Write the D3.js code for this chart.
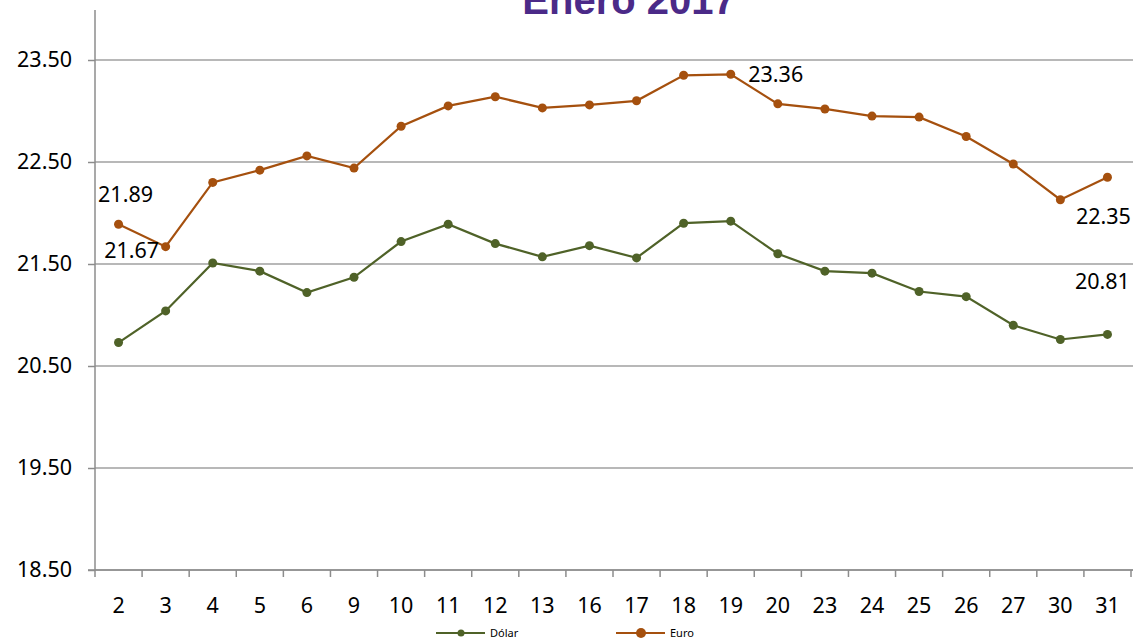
<!DOCTYPE html>
<html>
<head>
<meta charset="utf-8">
<script src="https://cdn.jsdelivr.net/npm/d3@7"></script>
<style>
  body { margin: 0; background: #fff; }
  text { font-family: "Noto Sans", sans-serif; }
</style>
</head>
<body>
<div id="chart"></div>
<script>
var days = ["2","3","4","5","6","9","10","11","12","13","16","17","18","19","20","23","24","25","26","27","30","31"];
var dolar = [20.73,21.04,21.51,21.43,21.22,21.37,21.72,21.89,21.70,21.57,21.68,21.56,21.90,21.92,21.60,21.43,21.41,21.23,21.18,20.90,20.76,20.81];
var euro = [21.89,21.67,22.30,22.42,22.56,22.44,22.85,23.05,23.14,23.03,23.06,23.10,23.35,23.36,23.07,23.02,22.95,22.94,22.75,22.48,22.13,22.35];
var yTicks = [18.5,19.5,20.5,21.5,22.5,23.5];

(function() {
    var width = 1133,
        height = 640;

    var svg = d3.select("#chart")
        .append("svg")
        .attr("width", width)
        .attr("height", height);

    var x = d3.scaleBand().domain(days).range([95, 1131]);
    var y = d3.scaleLinear().domain([18.5, 23.5]).range([570, 60]);

    // gridlines
    svg.selectAll(".grid")
        .data(yTicks)
        .enter().append("line")
        .attr("x1", 95).attr("x2", width)
        .attr("y1", function(d) { return y(d); })
        .attr("y2", function(d) { return y(d); })
        .attr("stroke", "#a0a0a0")
        .attr("stroke-width", 1.5);

    // y axis
    var yAxis = svg.append("g")
        .attr("transform", "translate(95,0)")
        .call(d3.axisLeft(y).tickValues(yTicks).tickFormat(d3.format(".2f")).tickSize(7).tickPadding(16));
    yAxis.select(".domain").remove();
    yAxis.selectAll("line").attr("stroke", "#8c8c8c").attr("stroke-width", 1.5);
    yAxis.selectAll("text").attr("font-size", 21.5).attr("fill", "#000").style("font-family", "Noto Sans");
    svg.append("line")
        .attr("x1", 95).attr("x2", 95).attr("y1", 10).attr("y2", 577)
        .attr("stroke", "#8c8c8c").attr("stroke-width", 1.5);

    // x axis
    var xg = svg.append("g").attr("transform", "translate(0,570)");
    xg.append("line").attr("x1", 88).attr("x2", width).attr("stroke", "#8c8c8c").attr("stroke-width", 1.5);
    xg.selectAll(".xt")
        .data(days)
        .enter().append("line")
        .attr("x1", function(d) { return x(d) + x.bandwidth(); })
        .attr("x2", function(d) { return x(d) + x.bandwidth(); })
        .attr("y1", 0).attr("y2", 7)
        .attr("stroke", "#8c8c8c").attr("stroke-width", 1.5);
    xg.selectAll(".xl")
        .data(days)
        .enter().append("text")
        .attr("x", function(d) { return x(d) + x.bandwidth() / 2; })
        .attr("y", 43)
        .attr("text-anchor", "middle")
        .attr("font-size", 21.5)
        .text(function(d) { return d; });

    var series = [
        { name: "Dólar", values: dolar, color: "#4f6228" },
        { name: "Euro", values: euro, color: "#a5500e" }
    ];

    var line = d3.line()
        .x(function(d, i) { return x(days[i]) + x.bandwidth() / 2; })
        .y(function(d) { return y(d); });

    series.forEach(function(s) {
        svg.append("path")
            .datum(s.values)
            .attr("d", line)
            .attr("fill", "none")
            .attr("stroke", s.color)
            .attr("stroke-width", 2.2);
        svg.selectAll(null)
            .data(s.values)
            .enter().append("circle")
            .attr("cx", function(d, i) { return x(days[i]) + x.bandwidth() / 2; })
            .attr("cy", function(d) { return y(d); })
            .attr("r", 4.5)
            .attr("fill", s.color);
    });

    // data labels
    var labels = [
        { v: euro[0], i: 0, dx: 7, dy: -22 },
        { v: euro[1], i: 1, dx: -34, dy: 11 },
        { v: euro[13], i: 13, dx: 45, dy: 8 },
        { v: euro[21], i: 21, dx: -4, dy: 47 },
        { v: dolar[21], i: 21, dx: -5, dy: -45 }
    ];
    svg.selectAll(".dl")
        .data(labels)
        .enter().append("text")
        .attr("x", function(d) { return x(days[d.i]) + x.bandwidth() / 2 + d.dx; })
        .attr("y", function(d) { return y(d.v) + d.dy; })
        .attr("text-anchor", "middle")
        .attr("font-size", 21.5)
        .text(function(d) { return d.v.toFixed(2); });

    // title
    svg.append("text")
        .attr("x", 629).attr("y", 14)
        .attr("text-anchor", "middle")
        .attr("font-size", 40)
        .attr("font-weight", "bold")
        .attr("fill", "#4b2a88")
        .style("font-family", "Liberation Sans, Arial, sans-serif")
        .text("Enero 2017");

    // legend
    var leg = svg.selectAll(".leg")
        .data(series)
        .enter().append("g")
        .attr("transform", function(d, i) { return "translate(" + (436 + i * 180) + ",633)"; });
    leg.append("line").attr("x1", 0).attr("x2", 49)
        .attr("stroke", function(d) { return d.color; }).attr("stroke-width", 2.2);
    leg.append("circle").attr("cx", 25)
        .attr("r", function(d, i) { return i ? 5 : 3.5; })
        .attr("fill", function(d) { return d.color; });
    leg.append("text").attr("x", 54).attr("y", 4)
        .attr("font-size", 11)
        .text(function(d) { return d.name; });
})();
</script>
</body>
</html>
